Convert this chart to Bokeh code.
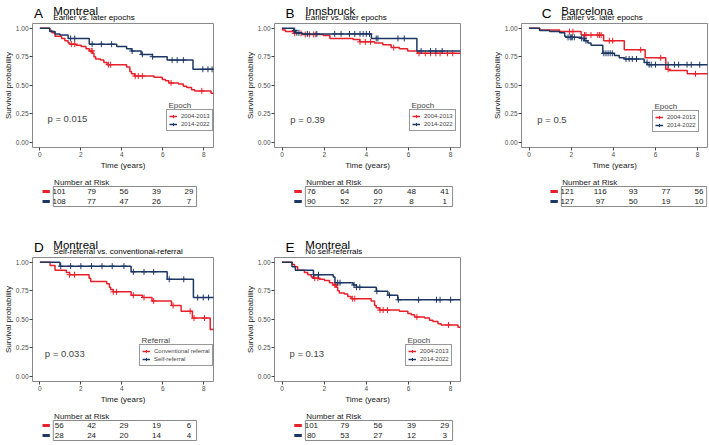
import numpy as np
from bokeh.plotting import figure
from bokeh.models import Range1d, FixedTicker, PrintfTickFormatter, Label, Legend, LegendItem
from bokeh.layouts import row, column
from bokeh.embed import file_html
from bokeh.resources import INLINE
from bokeh.core.properties import value

# ---------------- data ----------------
risk_times = [0, 2, 4, 6, 8]
x_ticks = [0, 2, 4, 6, 8]
y_ticks = [0.0, 0.25, 0.5, 0.75, 1.0]
end_time = 8.6

epoch_labels = ["2004-2013", "2014-2022"]
referral_labels = ["Conventional referral", "Self-referral"]

# Montreal, 2004-2013 (panels A and E)
mtl_early_t = [0, 0.48, 0.59, 0.74, 1.06, 1.22, 1.38, 1.46, 1.77, 2.01, 2.25, 2.41, 2.57, 2.64, 2.72,
               2.96, 3.12, 3.28, 4.23, 4.39, 4.47, 4.62, 5.57, 5.97, 6.13, 6.29, 6.76, 7.00, 7.16,
               7.40, 7.55, 8.35]
mtl_early_s = [1.00, 0.98, 0.96, 0.93, 0.91, 0.89, 0.87, 0.86, 0.85, 0.84, 0.82, 0.80, 0.78, 0.75, 0.73,
               0.72, 0.70, 0.68, 0.66, 0.62, 0.60, 0.58, 0.57, 0.55, 0.54, 0.52, 0.51, 0.49, 0.48,
               0.46, 0.45, 0.43]
mtl_early_cens = [1.55, 1.7, 2.5, 2.55, 3.35, 3.45, 4.65, 4.8, 5.0, 6.4, 7.9]

# Montreal, 2014-2022 (panel A)
mtl_late_t = [0, 0.48, 0.74, 0.98, 1.38, 2.41, 3.75, 4.23, 4.47, 4.94, 5.49, 6.21, 7.47]
mtl_late_s = [1.00, 0.97, 0.95, 0.94, 0.91, 0.86, 0.84, 0.82, 0.80, 0.77, 0.75, 0.72, 0.64]
mtl_late_cens = [1.5, 1.7, 2.55, 3.0, 3.5, 4.5, 5.0, 5.5, 6.45, 6.7, 7.0, 7.95, 8.2, 8.4]

# Innsbruck
inn_early_t = [0, 0.02, 0.16, 0.55, 0.94, 1.96, 2.27, 3.37, 3.69, 4.39, 4.78, 5.18, 5.57, 5.96, 6.43]
inn_early_s = [1.0, 0.985, 0.97, 0.955, 0.945, 0.935, 0.91, 0.90, 0.88, 0.87, 0.855, 0.83, 0.82, 0.80, 0.78]
inn_early_cens = [0.6, 0.9, 1.1, 1.3, 1.5, 1.6, 3.7, 3.95, 4.2, 5.3, 6.5, 6.8, 7.05, 7.3, 7.5, 7.85, 8.1]
inn_late_t = [0, 0.55, 0.63, 0.94, 4.24, 6.40]
inn_late_s = [1.0, 0.98, 0.96, 0.95, 0.91, 0.80]
inn_late_cens = [0.6, 0.7, 0.8, 1.2, 1.65, 2.5, 2.8, 3.2, 3.45, 3.7, 3.85, 4.0, 4.15,
                 4.47, 4.55, 5.5, 5.8, 6.6, 7.05, 7.3, 7.6]

# Barcelona
bcn_early_t = [0, 0.50, 1.45, 2.47, 3.54, 4.52, 5.51, 6.49, 6.65, 7.51]
bcn_early_s = [1.0, 0.985, 0.97, 0.94, 0.89, 0.81, 0.74, 0.64, 0.63, 0.60]
bcn_early_cens = [1.92, 2.08, 2.63, 2.7, 2.94, 3.26, 3.34, 3.42, 3.81, 3.97, 5.3, 6.25, 6.6, 7.9]
bcn_late_t = [0, 0.50, 0.98, 1.45, 1.69, 1.76, 2.47, 2.63, 2.79, 2.94, 3.50, 4.05, 4.28, 4.52, 5.46, 5.62]
bcn_late_s = [1.0, 0.98, 0.97, 0.96, 0.93, 0.92, 0.91, 0.89, 0.87, 0.85, 0.78, 0.76, 0.74, 0.73, 0.70, 0.68]
bcn_late_cens = [1.85, 1.95, 2.0, 2.05, 2.15, 2.5, 2.6, 2.7, 3.55, 3.65, 3.75, 3.85, 3.95, 4.6, 4.75,
                 4.9, 5.1, 5.6, 5.7, 5.8, 6.0, 6.6, 6.9, 7.1, 7.5, 7.7, 8.1]

# Montreal, referral type
conv_t = [0, 0.50, 0.74, 1.29, 1.45, 2.40, 2.48, 3.26, 3.39, 3.45, 3.58, 4.45, 5.00, 5.47, 6.42, 6.89, 7.44, 8.31]
conv_s = [1.0, 0.97, 0.93, 0.91, 0.89, 0.86, 0.83, 0.81, 0.78, 0.76, 0.74, 0.71, 0.69, 0.66, 0.62, 0.57, 0.51, 0.41]
conv_cens = [1.45, 1.69, 3.58, 3.74, 4.56, 5.08, 5.55, 6.5, 7.33, 7.52, 8.03]
self_t = [0, 0.98, 4.45, 6.21, 7.49]
self_s = [1.0, 0.965, 0.915, 0.85, 0.69]
self_cens = [1.02, 1.5, 2.0, 2.52, 3.03, 3.53, 4.1, 4.56, 5.08, 5.55, 6.31, 7.02, 7.7, 7.97, 8.23]

# Montreal, 2014-2022 without self-referrals (panel E)
nsr_late_t = [0, 0.47, 0.63, 1.49, 2.43, 2.51, 3.37, 3.53, 4.47, 5.02, 5.49]
nsr_late_s = [1.0, 0.96, 0.93, 0.89, 0.87, 0.82, 0.80, 0.78, 0.745, 0.71, 0.67]
nsr_late_cens = [1.49, 1.73, 2.64, 2.75, 3.42, 3.53, 3.69, 4.5, 5.1, 5.52, 6.48, 7.33, 7.5, 8.0]

# numbers at risk at risk_times
risk_A = ([101, 79, 56, 39, 29], [108, 77, 47, 26, 7])
risk_B = ([76, 64, 60, 48, 41], [90, 52, 27, 8, 1])
risk_C = ([121, 116, 93, 77, 56], [127, 97, 50, 19, 10])
risk_D = ([56, 42, 29, 19, 6], [28, 24, 20, 14, 4])
risk_E = ([101, 79, 56, 39, 29], [80, 53, 27, 12, 3])

p_values = ["p = 0.015", "p = 0.39", "p = 0.5", "p = 0.033", "p = 0.13"]

# ---------------- style ----------------
RED = "#E8202A"
BLUE = "#1C3764"
FONT = "Liberation Sans"
GREY = "#8A8A8A"
X0, X1 = -0.36, 8.47
Y0, Y1 = -0.046, 1.041
FRAME_W = 186
HEAD_H = 22
KM_H = 153
FRAME_TOP = 1
FRAME_BOT = 125   # frame bottom inside the KM figure
LEG_H = 20


def surv_at(t, s, c):
    idx = np.searchsorted(np.array(t), np.array(c), side="right") - 1
    return list(np.array(s)[idx])


def header(W, left, letter, title, subtitle):
    h = figure(width=W, height=HEAD_H, x_range=Range1d(0, W), y_range=Range1d(HEAD_H, 0),
               output_backend="svg", toolbar_location=None, title=None, min_border=0,
               x_axis_location=None, y_axis_location=None, outline_line_color=None)
    h.grid.grid_line_color = None
    h.text(x=[left - 25], y=[13], text=[letter], text_font=value(FONT), text_font_size="13.5px",
           text_baseline="alphabetic", text_color="#000000")
    h.text(x=[left], y=[10], text=[title], text_font=value(FONT), text_font_size="11.5px",
           text_baseline="alphabetic", text_color="#000000")
    h.text(x=[left], y=[17], text=[subtitle], text_font=value(FONT), text_font_size="8px",
           text_baseline="alphabetic", text_color="#000000")
    return h


def km_panel(W, left, curves, labels, leg_title, leg_xy, pval, pxy):
    p = figure(width=W, height=KM_H, x_range=Range1d(X0, X1), y_range=Range1d(Y0, Y1),
               output_backend="svg", toolbar_location=None, title=None,
               min_border_left=left, min_border_right=W - left - FRAME_W,
               min_border_top=FRAME_TOP, min_border_bottom=KM_H - FRAME_BOT)
    p.grid.grid_line_color = None
    p.outline_line_color = GREY
    p.outline_line_width = 1
    p.xaxis.ticker = FixedTicker(ticks=x_ticks)
    p.yaxis.ticker = FixedTicker(ticks=y_ticks)
    p.yaxis.formatter = PrintfTickFormatter(format="%.2f")
    p.axis.axis_line_color = None
    p.axis.major_tick_out = 3
    p.axis.major_tick_in = 0
    p.axis.minor_tick_out = 0
    p.axis.minor_tick_in = 0
    p.axis.major_tick_line_color = "#444444"
    p.axis.major_label_text_font = FONT
    p.axis.major_label_text_font_size = "6.5px"
    p.axis.major_label_text_color = "#4D4D4D"
    p.axis.major_label_standoff = 1
    p.axis.axis_label_text_font = FONT
    p.axis.axis_label_text_font_size = "8px"
    p.axis.axis_label_text_font_style = "normal"
    p.axis.axis_label_text_color = "#1A1A1A"
    p.axis.axis_label_standoff = 0
    p.xaxis.axis_label_standoff = 1
    p.xaxis.axis_label = "Time (years)"
    p.yaxis.axis_label = "Survival probability"

    items = []
    for (t, s, c), col, lab in zip(curves, [RED, BLUE], labels):
        r = p.step(t + [end_time], s + [s[-1]], mode="after", line_color=col, line_width=1.5)
        m = p.scatter(c, surv_at(t, s, c), marker="cross", size=6, line_color=col, line_width=1)
        items.append(LegendItem(label=lab, renderers=[r, m]))
    leg = Legend(items=items, location=leg_xy, padding=2, spacing=0, margin=0,
                 glyph_width=8, glyph_height=8, label_height=8, label_standoff=4,
                 label_text_font=FONT, label_text_font_size="6px",
                 border_line_color="#333333", border_line_width=1, background_fill_alpha=1)
    p.add_layout(leg, "center")
    p.add_layout(Label(x=leg_xy[0] + 2, y=leg_xy[1] + LEG_H + 2, x_units="screen", y_units="screen",
                       text=leg_title, text_font=FONT, text_font_size="8px", text_baseline="bottom"))
    p.add_layout(Label(x=pxy[0], y=pxy[1], text=pval, text_font=FONT, text_font_size="9.5px",
                       text_baseline="middle"))
    return p


def risk_panel(W, left, H, risk):
    ppy = FRAME_W / (X1 - X0)
    xs = X0 - left / ppy
    xe = X0 + (W - left) / ppy
    ytop = 2.6
    ybot = ytop - H / 10.0
    t = figure(width=W, height=H, x_range=Range1d(xs, xe), y_range=Range1d(ybot, ytop),
               output_backend="svg", toolbar_location=None, title=None, min_border=0,
               x_axis_location=None, y_axis_location=None, outline_line_color=None)
    t.grid.grid_line_color = None
    t.quad(left=[X0], right=[X1], bottom=[-0.5], top=[1.5], fill_color=None, line_color=GREY, line_width=1)
    t.text(x=[X0 + 0.05], y=[1.93], text=["Number at Risk"], text_align="left", text_baseline="middle",
           text_font=value(FONT), text_font_size="8px", text_color="#1A1A1A")
    for vals, yrow, col in zip(risk, [1, 0], [RED, BLUE]):
        t.text(x=risk_times, y=[yrow] * len(risk_times), text=[str(v) for v in vals],
               text_align="center", text_baseline="middle", text_font=value(FONT),
               text_font_size="8px", text_color="#1A1A1A")
        t.segment(x0=[X0 - 14 / ppy], x1=[X0 - 4.5 / ppy], y0=[yrow], y1=[yrow], line_color=col, line_width=3)
    return t


specs = [
    dict(letter="A", title="Montreal", subtitle="Earlier vs. later epochs", W=235, left=27,
         curves=[(mtl_early_t, mtl_early_s, mtl_early_cens), (mtl_late_t, mtl_late_s, mtl_late_cens)],
         labels=epoch_labels, leg_title="Epoch", leg_xy=(134, 16), pval=p_values[0], pxy=(0.37, 0.21),
         risk=risk_A, H=59),
    dict(letter="B", title="Innsbruck", subtitle="Earlier vs. later epochs", W=235, left=39,
         curves=[(inn_early_t, inn_early_s, inn_early_cens), (inn_late_t, inn_late_s, inn_late_cens)],
         labels=epoch_labels, leg_title="Epoch", leg_xy=(135, 16), pval=p_values[1], pxy=(0.39, 0.2),
         risk=risk_B, H=59),
    dict(letter="C", title="Barcelona", subtitle="Earlier vs. later epochs", W=238, left=51,
         curves=[(bcn_early_t, bcn_early_s, bcn_early_cens), (bcn_late_t, bcn_late_s, bcn_late_cens)],
         labels=epoch_labels, leg_title="Epoch", leg_xy=(131, 15), pval=p_values[2], pxy=(0.39, 0.2),
         risk=risk_C, H=59),
    dict(letter="D", title="Montreal", subtitle="Self-referral vs. conventional-referral", W=235, left=27,
         curves=[(conv_t, conv_s, conv_cens), (self_t, self_s, self_cens)],
         labels=referral_labels, leg_title="Referral", leg_xy=(107, 15), pval=p_values[3], pxy=(0.24, 0.2),
         risk=risk_D, H=34),
    dict(letter="E", title="Montreal", subtitle="No self-referrals", W=235, left=39,
         curves=[(mtl_early_t, mtl_early_s, mtl_early_cens), (nsr_late_t, nsr_late_s, nsr_late_cens)],
         labels=epoch_labels, leg_title="Epoch", leg_xy=(131, 15), pval=p_values[4], pxy=(0.35, 0.2),
         risk=risk_E, H=34),
]

cols = []
for sp in specs:
    hd = header(sp["W"], sp["left"], sp["letter"], sp["title"], sp["subtitle"])
    km = km_panel(sp["W"], sp["left"], sp["curves"], sp["labels"], sp["leg_title"], sp["leg_xy"],
                  sp["pval"], sp["pxy"])
    tab = risk_panel(sp["W"], sp["left"], sp["H"], sp["risk"])
    cols.append(column(hd, km, tab, spacing=0))

layout = column(row(cols[0], cols[1], cols[2], spacing=0), row(cols[3], cols[4], spacing=0), spacing=0)

with open("out.html", "w") as f:
    f.write(file_html(layout, INLINE))
